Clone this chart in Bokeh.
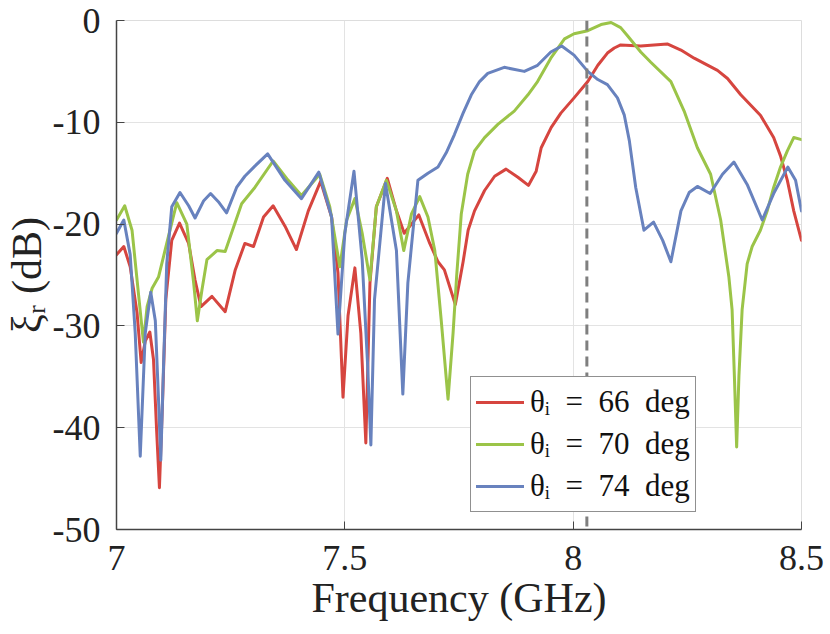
from bokeh.plotting import figure
from bokeh.models import Span, Legend, LegendItem, FixedTicker, CustomJSTickFormatter, Range1d
from bokeh.embed import file_html
from bokeh.resources import INLINE

# ---- data ----
red_x = [7.000, 7.016, 7.030, 7.045, 7.054, 7.063, 7.073, 7.081, 7.088, 7.094, 7.101, 7.108,
         7.121, 7.138, 7.158, 7.172, 7.185, 7.209, 7.238, 7.260, 7.281, 7.300, 7.322, 7.343,
         7.369, 7.394, 7.420, 7.447, 7.471, 7.485, 7.496, 7.507, 7.522, 7.535, 7.546, 7.555,
         7.569, 7.593, 7.613, 7.630, 7.662, 7.686, 7.704, 7.718, 7.742, 7.759, 7.770, 7.784,
         7.806, 7.828, 7.853, 7.879, 7.902, 7.919, 7.930, 7.952, 7.973, 8.002, 8.032, 8.054,
         8.075, 8.090, 8.104, 8.148, 8.177, 8.206, 8.236, 8.265, 8.316, 8.338, 8.367, 8.410,
         8.439, 8.454, 8.469, 8.483, 8.500]
red_y = [-23.0, -22.2, -24.2, -28.7, -33.6, -31.5, -30.6, -33.3, -40.4, -45.9, -37.2, -27.4,
         -21.6, -19.9, -21.9, -25.5, -28.1, -27.1, -28.6, -24.5, -21.9, -22.2, -19.3, -18.2,
         -20.2, -22.5, -18.7, -15.8, -19.3, -24.8, -37.0, -29.0, -24.3, -30.7, -41.5, -25.8,
         -18.3, -15.5, -18.7, -20.9, -19.1, -21.9, -23.7, -24.5, -27.9, -23.7, -20.6, -18.7,
         -16.7, -15.3, -14.6, -15.4, -16.2, -14.8, -12.5, -10.5, -9.1, -7.6, -6.0, -4.4,
         -3.2, -2.7, -2.4, -2.5, -2.4, -2.3, -2.9, -3.7, -4.9, -5.7, -7.3, -9.3,
         -11.5, -13.3, -15.7, -18.7, -21.6]

green_x = [7.000, 7.018, 7.034, 7.048, 7.059, 7.067, 7.078, 7.092, 7.110, 7.132, 7.154, 7.169,
           7.177, 7.187, 7.198, 7.220, 7.238, 7.274, 7.303, 7.343, 7.376, 7.405, 7.445, 7.467,
           7.489, 7.504, 7.522, 7.538, 7.555, 7.569, 7.591, 7.613, 7.629, 7.646, 7.664, 7.682,
           7.697, 7.711, 7.726, 7.737, 7.745, 7.755, 7.769, 7.784, 7.806, 7.835, 7.871, 7.901,
           7.922, 7.951, 7.981, 8.002, 8.032, 8.061, 8.083, 8.104, 8.119, 8.148, 8.170, 8.214,
           8.243, 8.272, 8.301, 8.323, 8.341, 8.348, 8.353, 8.358, 8.363, 8.370, 8.381, 8.392,
           8.410, 8.425, 8.439, 8.454, 8.469, 8.483, 8.500]
green_y = [-19.6, -18.2, -20.6, -26.8, -31.6, -28.1, -26.3, -25.2, -21.9, -17.9, -20.0, -25.8,
           -29.5, -26.5, -23.5, -22.6, -22.7, -18.0, -16.4, -13.8, -15.7, -17.2, -15.1, -18.3,
           -24.2, -19.6, -17.5, -20.9, -25.5, -18.3, -15.7, -18.7, -22.6, -19.0, -17.3, -19.3,
           -22.6, -29.4, -37.2, -30.7, -25.0, -19.0, -15.1, -12.8, -11.5, -10.2, -8.9, -7.3,
           -6.0, -3.7, -1.8, -1.3, -1.0, -0.4, -0.2, -0.7, -1.5, -3.1, -4.1, -6.0,
           -8.9, -12.5, -15.1, -19.6, -25.2, -28.4, -34.9, -41.9, -34.9, -28.4, -23.9, -22.2,
           -20.6, -18.7, -16.4, -14.4, -12.8, -11.5, -11.7]

blue_x = [7.000, 7.016, 7.030, 7.041, 7.052, 7.063, 7.075, 7.085, 7.092, 7.097, 7.103, 7.110,
          7.121, 7.139, 7.158, 7.172, 7.191, 7.206, 7.223, 7.241, 7.263, 7.281, 7.303, 7.331,
          7.369, 7.405, 7.443, 7.471, 7.485, 7.500, 7.520, 7.538, 7.550, 7.557, 7.565, 7.589,
          7.613, 7.627, 7.638, 7.660, 7.682, 7.704, 7.722, 7.740, 7.759, 7.777, 7.795, 7.813,
          7.849, 7.893, 7.922, 7.951, 7.975, 8.002, 8.032, 8.054, 8.075, 8.097, 8.112, 8.123,
          8.137, 8.155, 8.176, 8.196, 8.214, 8.236, 8.254, 8.272, 8.300, 8.327, 8.352, 8.381,
          8.414, 8.439, 8.470, 8.487, 8.500]
blue_y = [-20.9, -19.6, -23.0, -30.7, -42.8, -30.7, -26.7, -29.5, -37.2, -43.2, -33.9, -23.9,
          -18.3, -16.9, -18.2, -19.4, -17.7, -17.0, -17.8, -18.9, -16.4, -15.3, -14.3, -13.1,
          -15.7, -17.5, -14.9, -19.3, -30.8, -20.9, -14.8, -23.5, -33.9, -41.7, -27.4, -16.0,
          -22.6, -36.7, -25.8, -15.7, -15.0, -14.4, -13.0, -11.2, -9.1, -7.3, -6.0, -5.2,
          -4.6, -5.0, -4.4, -3.1, -2.5, -3.4, -5.0, -5.8, -6.3, -7.6, -9.3, -11.8,
          -16.4, -20.6, -19.8, -21.6, -23.7, -18.7, -16.9, -16.3, -17.0, -15.1, -13.9, -16.1,
          -19.6, -17.0, -14.4, -15.7, -18.7]

series_labels = ["θᵢ\u2002=\u200266\u2002deg", "θᵢ\u2002=\u200270\u2002deg", "θᵢ\u2002=\u200274\u2002deg"]
series_colors = ["#D6453F", "#9BC448", "#6882BE"]
marker_freq = 8.03
x_ticks = [7, 7.5, 8, 8.5]
y_ticks = [0, -10, -20, -30, -40, -50]

FONT = "Liberation Serif"

p = figure(width=830, height=634, output_backend="svg", toolbar_location=None,
           x_range=Range1d(7, 8.5), y_range=Range1d(-50, 0),
           min_border_left=115, min_border_right=29, min_border_top=20, min_border_bottom=105)
p.background_fill_color = "white"
p.border_fill_color = "white"
p.outline_line_color = "#DDDDDD"
p.outline_line_width = 1

for ax in (p.xaxis[0], p.yaxis[0]):
    ax.major_label_text_font = FONT
    ax.major_label_text_font_size = "36px"
    ax.major_label_text_color = "#222222"
    ax.axis_label_text_font = FONT
    ax.axis_label_text_font_size = "42px"
    ax.axis_label_text_font_style = "normal"
    ax.axis_label_text_color = "#222222"
    ax.axis_line_color = "#444444"
    ax.axis_line_width = 1.5
    ax.major_tick_line_color = "#444444"
    ax.major_tick_in = 8
    ax.major_tick_out = 0
    ax.minor_tick_line_color = None
    ax.formatter = CustomJSTickFormatter(code="return tick.toString();")

p.xaxis[0].ticker = FixedTicker(ticks=x_ticks)
p.yaxis[0].ticker = FixedTicker(ticks=y_ticks)
p.xaxis[0].axis_label = "Frequency (GHz)"
p.yaxis[0].axis_label = "ξᵣ (dB)"
p.xaxis[0].major_label_standoff = 16
p.yaxis[0].major_label_standoff = 16
p.xaxis[0].axis_label_standoff = 2
p.yaxis[0].axis_label_standoff = 0

p.xgrid.grid_line_color = "#E3E3E3"
p.ygrid.grid_line_color = "#E3E3E3"
p.xgrid.grid_line_width = 1
p.ygrid.grid_line_width = 1

renderers = []
for xs, ys, c in [(red_x, red_y, series_colors[0]), (green_x, green_y, series_colors[1]),
                  (blue_x, blue_y, series_colors[2])]:
    r = p.line(xs, ys, line_color=c, line_width=3, line_join="round", line_cap="round")
    renderers.append(r)

p.add_layout(Span(location=marker_freq, dimension="height", line_color="#7F7F7F",
                  line_width=3, line_dash="10 6"))

legend = Legend(items=[LegendItem(label=l, renderers=[r]) for l, r in zip(series_labels, renderers)],
                location=(354, 17), margin=0, padding=5, spacing=2,
                glyph_width=48, glyph_height=40, label_standoff=6,
                label_text_font=FONT, label_text_font_size="31px", label_text_color="#111111",
                border_line_color="#222222", border_line_width=1,
                background_fill_color="white", background_fill_alpha=1.0)
p.add_layout(legend, "center")

open("out.html", "w").write(file_html(p, INLINE))
